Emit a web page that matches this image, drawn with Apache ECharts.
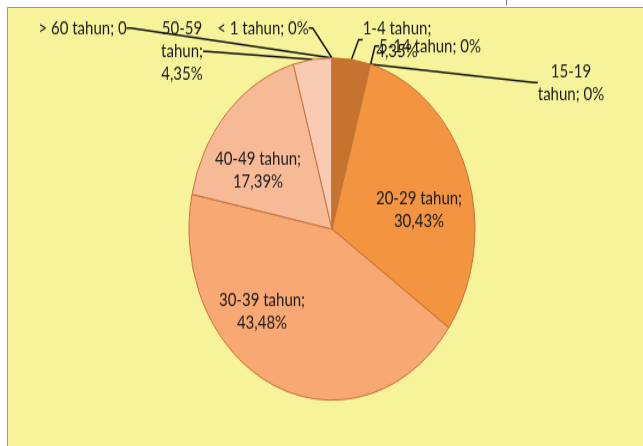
<!DOCTYPE html>
<html>
<head>
<meta charset="utf-8">
<script src="https://cdn.jsdelivr.net/npm/echarts@6/dist/echarts.min.js"></script>
<style>
  html, body { margin: 0; padding: 0; background: #fff; }
  #frame { position: absolute; left: 7px; top: 7px; width: 635px; height: 438px;
           border-left: 1px solid #9a9a9a; border-top: 1px solid #9a9a9a;
           background: #f7f39b; overflow: hidden; }
  #tick { position: absolute; left: 506px; top: 0; width: 1px; height: 5px; background: #777; }
  /* the source picture is stretched vertically, so the chart is too */
  #main { position: absolute; left: 0; top: 0; width: 635px; height: 366px;
          transform: scaleY(1.1967); transform-origin: 0 0; }
</style>
</head>
<body>
<div id="tick"></div>
<div id="frame"><div id="main"></div></div>
<script>
// kelompok umur dan persentase
var categories = ["< 1 tahun", "1-4 tahun", "5-14 tahun", "15-19 tahun", "20-29 tahun",
                  "30-39 tahun", "40-49 tahun", "50-59 tahun", "> 60 tahun"];
var values = [0, 4.35, 0, 0, 30.43, 43.48, 17.39, 4.35, 0];
// label text as printed on the chart
var labelText = ["< 1 tahun; 0%", "1-4 tahun;\n4,35%", "5-14 tahun; 0%", "15-19\ntahun; 0%",
                 "20-29 tahun;\n30,43%", "30-39 tahun;\n43,48%", "40-49 tahun;\n17,39%",
                 "50-59\ntahun;\n4,35%", "> 60 tahun; 0"];
var colors = ["#c6732f", "#c6732f", "#e08a3c", "#ea8f3e", "#f29440",
              "#f7a873", "#f7ba97", "#facbb3", "#fbd6c4"];
// label centres (chart coords, before the vertical stretch)
var labelPos = [[255, 16.7], [389, 26.5], [422, 31.8], [563, 62.3], [411, 168.8],
                [254, 254], [250, 135.4], [174, 36.3], [74.5, 16.7]];
var insideLabel = [false, false, false, false, true, true, true, false, false];

var myChart = echarts.init(document.getElementById("main"), null, { renderer: "canvas" });

var data = categories.map(function (c, i) {
  return {
    name: c,
    value: values[i],
    itemStyle: { color: colors[i] },
    labelLine: { show: !insideLabel[i] }
  };
});

var option = {
  animation: false,
  backgroundColor: "transparent",
  series: [
    {
      type: "pie",
      center: [324, 184.7],
      radius: 143,
      startAngle: 90,
      clockwise: true,
      avoidLabelOverlap: false,
      minShowLabelAngle: 0,
      itemStyle: { borderColor: "#c27238", borderWidth: 1 },
      label: {
        show: true,
        position: "outside",
        formatter: function (p) { return labelText[p.dataIndex]; },
        fontFamily: "Lato",
        fontSize: 15,
        lineHeight: 19,
        color: "#1a1a1a",
        align: "center"
      },
      labelLine: {
        show: true,
        length: 5,
        length2: 4,
        lineStyle: { color: "#111", width: 1.5 }
      },
      labelLayout: function (p) {
        var pos = labelPos[p.dataIndex];
        return { x: pos[0], y: pos[1], align: "center", verticalAlign: "middle" };
      },
      emphasis: { disabled: true },
      data: data
    }
  ]
};
myChart.setOption(option);
</script>
</body>
</html>
